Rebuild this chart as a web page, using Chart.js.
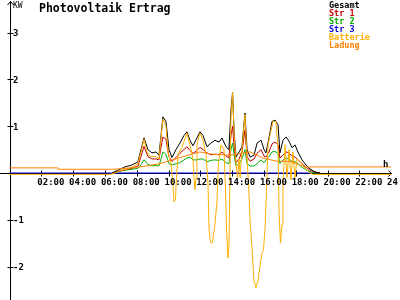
<!DOCTYPE html>
<html><head><meta charset="utf-8">
<script src="https://cdn.jsdelivr.net/npm/chart.js@4/dist/chart.umd.min.js"></script>
<style>html,body{margin:0;padding:0;background:#fff}#wrap{width:400px;height:300px}</style>
</head><body><div id="wrap"><canvas id="c" width="400" height="300"></canvas></div>
<script>
const title = "Photovoltaik Ertrag";
const seriesNames = ["Gesamt", "Str 1", "Str 2", "Str 3", "Batterie", "Ladung"];
const seriesColors = ["#000000", "#c00000", "#00b000", "#0000e0", "#ffb000", "#ff8000"];

const hours = [6.45, 6.82, 7.26, 7.70, 8.08, 8.27, 8.46, 8.71, 8.96, 9.21, 9.40, 9.53, 9.65, 9.84, 10.03, 10.22, 10.47, 10.72, 10.97, 11.16, 11.35, 11.54, 11.79, 11.98, 12.17, 12.42, 12.67, 12.92, 13.18, 13.36, 13.62, 13.80, 13.93, 14.03, 14.12, 14.25, 14.44, 14.62, 14.81, 14.94, 15.13, 15.38, 15.57, 15.82, 16.01, 16.13, 16.32, 16.51, 16.70, 16.89, 17.01, 17.20, 17.39, 17.58, 17.77, 17.96, 18.14, 18.40, 18.65, 18.90, 19.21, 19.53];
const gesamt = [0, 0.06, 0.13, 0.17, 0.24, 0.5, 0.75, 0.5, 0.43, 0.45, 0.38, 0.8, 1.2, 1.1, 0.5, 0.33, 0.5, 0.64, 0.8, 0.88, 0.7, 0.58, 0.75, 0.88, 0.8, 0.56, 0.64, 0.7, 0.66, 0.75, 0.56, 0.5, 1.35, 1.72, 0.92, 0.34, 0.45, 0.56, 1.28, 0.5, 0.34, 0.38, 0.64, 0.7, 0.5, 0.43, 0.75, 1.1, 1.13, 1.03, 0.43, 0.7, 0.77, 0.68, 0.54, 0.6, 0.45, 0.28, 0.17, 0.09, 0.02, 0];
const str1 = [0, 0.03, 0.07, 0.1, 0.15, 0.35, 0.57, 0.35, 0.3, 0.3, 0.28, 0.55, 0.77, 0.72, 0.35, 0.25, 0.33, 0.42, 0.5, 0.56, 0.48, 0.42, 0.48, 0.55, 0.5, 0.43, 0.39, 0.4, 0.39, 0.45, 0.36, 0.32, 0.8, 1.0, 0.6, 0.22, 0.3, 0.45, 0.92, 0.35, 0.25, 0.3, 0.42, 0.5, 0.36, 0.34, 0.45, 0.62, 0.66, 0.6, 0.32, 0.38, 0.45, 0.43, 0.36, 0.34, 0.28, 0.2, 0.12, 0.06, 0.02, 0];
const str2 = [0, 0.03, 0.06, 0.08, 0.1, 0.18, 0.28, 0.18, 0.15, 0.16, 0.15, 0.3, 0.45, 0.4, 0.2, 0.17, 0.2, 0.22, 0.28, 0.32, 0.34, 0.28, 0.28, 0.3, 0.3, 0.24, 0.27, 0.28, 0.27, 0.3, 0.22, 0.2, 0.5, 0.64, 0.4, 0.15, 0.2, 0.3, 0.5, 0.2, 0.15, 0.15, 0.2, 0.28, 0.22, 0.28, 0.35, 0.45, 0.46, 0.42, 0.2, 0.28, 0.32, 0.3, 0.25, 0.24, 0.2, 0.12, 0.07, 0.03, 0, 0];
const str3Hours = [0, 19.25];
const str3 = [0, 0];
const batHours = [0, 6.32, 6.64, 6.95, 7.58, 8.08, 8.27, 8.46, 8.65, 8.84, 9.21, 9.40, 9.53, 9.65, 9.84, 9.97, 10.16, 10.28, 10.35, 10.44, 10.50, 10.60, 10.85, 11.16, 11.35, 11.54, 11.60, 11.67, 11.73, 11.79, 11.98, 12.17, 12.36, 12.48, 12.55, 12.64, 12.74, 12.80, 12.92, 13.05, 13.14, 13.30, 13.49, 13.58, 13.65, 13.74, 13.80, 13.86, 13.93, 14.03, 14.12, 14.25, 14.34, 14.44, 14.50, 14.62, 14.81, 14.94, 15.03, 15.13, 15.25, 15.38, 15.50, 15.63, 15.75, 15.88, 15.97, 16.07, 16.16, 16.26, 16.38, 16.57, 16.76, 16.89, 16.95, 17.04, 17.14, 17.20, 17.33, 17.45, 17.58, 17.70, 17.83, 17.96, 18.08, 18.27, 18.58, 18.90, 19.09, 24];
const batterie = [-0.03, -0.03, 0, 0.05, 0.1, 0.2, 0.45, 0.72, 0.45, 0.35, 0.35, 0.3, 0.75, 1.15, 1.0, 0.45, 0.2, -0.25, -0.62, -0.55, -0.1, 0.4, 0.55, 0.85, 0.6, 0.3, -0.1, -0.36, -0.1, 0.6, 0.85, 0.7, 0.4, -0.2, -1.2, -1.48, -1.5, -1.4, -1.1, -0.6, 0.2, 0.6, 0.5, -0.3, -1.2, -1.82, -1.6, -0.2, 1.2, 1.72, 0.9, 0.2, -0.1, 0.3, -0.1, 0.5, 1.25, 0.3, -0.2, -1.0, -1.6, -2.3, -2.45, -2.3, -2.0, -1.7, -1.65, -1.2, -0.4, 0.6, 0.8, 1.1, 1.1, 0.5, -0.8, -1.5, -1.1, -0.2, 0.6, -0.1, 0.5, -0.15, 0.45, -0.1, 0.3, 0.25, 0.1, 0, -0.03, -0.03];
const ladHours = [0, 3.05, 3.06, 6.51, 6.95, 8.2, 9.46, 10.72, 11.98, 12.8, 13.87, 15.13, 15.94, 16.82, 17.64, 18.27, 18.6, 24];
const ladung = [0.11, 0.11, 0.08, 0.08, 0.09, 0.13, 0.2, 0.33, 0.45, 0.4, 0.38, 0.45, 0.32, 0.25, 0.25, 0.17, 0.13, 0.13];

const xTicks = [2, 4, 6, 8, 10, 12, 14, 16, 18, 20, 22, 24];
const xTickLabels = ["02:00", "04:00", "06:00", "08:00", "10:00", "12:00", "14:00", "16:00", "18:00", "20:00", "22:00", "24:00"];
const yTicks = [3, 2, 1, -1, -2];
const yTickLabels = ["3", "2", "1", "-1", "-2"];
const yUnit = "KW";
const xUnit = "h";

function pts(t, v) { return t.map((x, i) => ({ x: x, y: v[i] })); }
const seriesData = [pts(hours, gesamt), pts(hours, str1), pts(hours, str2), pts(str3Hours, str3), pts(batHours, batterie), pts(ladHours, ladung)];
const orders = [2, 3, 4, 5, 1, 0];

const FONT = '"DejaVu Sans Mono", "Liberation Mono", monospace';

const axesPlugin = {
  id: 'axesPlugin',
  beforeDatasetsDraw(chart) {
    const ctx = chart.ctx, xs = chart.scales.x, ys = chart.scales.y;
    const x0 = Math.round(xs.getPixelForValue(0)) + 0.5;
    const y0 = Math.round(ys.getPixelForValue(0)) + 0.5;
    const xEnd = Math.round(xs.getPixelForValue(24)) + 0.5;
    ctx.save();
    ctx.strokeStyle = '#000';
    ctx.lineWidth = 1;
    ctx.beginPath();
    ctx.moveTo(0, y0); ctx.lineTo(xEnd, y0);
    ctx.moveTo(xEnd - 3, y0 - 3); ctx.lineTo(xEnd, y0); ctx.lineTo(xEnd - 3, y0 + 3);
    ctx.moveTo(x0, 1); ctx.lineTo(x0, 300);
    ctx.moveTo(x0 - 3, 5); ctx.lineTo(x0, 1.5); ctx.lineTo(x0 + 3, 5);
    xTicks.forEach(h => {
      if (h === 24) return;
      const px = Math.round(xs.getPixelForValue(h)) + 0.5;
      ctx.moveTo(px, y0 - 3); ctx.lineTo(px, y0 + 3);
    });
    yTicks.forEach(v => {
      const py = Math.round(ys.getPixelForValue(v)) + 0.5;
      ctx.moveTo(x0 - 3, py); ctx.lineTo(x0 + 3, py);
    });
    ctx.stroke();
    ctx.restore();
  },
  afterDatasetsDraw(chart) {
    const ctx = chart.ctx, xs = chart.scales.x, ys = chart.scales.y;
    const y0 = ys.getPixelForValue(0);
    const x0 = xs.getPixelForValue(0);
    ctx.save();
    ctx.textBaseline = 'alphabetic';
    ctx.textAlign = 'left';
    ctx.fillStyle = '#000';
    ctx.font = 'bold 9px ' + FONT;
    xTicks.forEach((h, i) => {
      ctx.fillText(xTickLabels[i], xs.getPixelForValue(h) - 4, y0 + 12);
    });
    yTicks.forEach((v, i) => {
      ctx.fillText(yTickLabels[i], x0 + 3.5, ys.getPixelForValue(v) + 3.5);
    });
    ctx.font = '8px ' + FONT;
    ctx.fillText(yUnit, x0 + 3.5, 8);
    ctx.font = 'bold 9px ' + FONT;
    ctx.fillText(xUnit, xs.getPixelForValue(24) - 8, y0 - 6);
    ctx.font = 'bold 11.5px ' + FONT;
    ctx.fillText(title, 39, 12);
    ctx.font = 'bold 8.5px ' + FONT;
    chart.data.datasets.forEach((ds, i) => {
      ctx.fillStyle = ds.borderColor;
      ctx.fillText(ds.label, 329, 8 + 8 * i);
    });
    ctx.restore();
  }
};

new Chart(document.getElementById('c'), {
  type: 'line',
  data: {
    datasets: seriesNames.map((n, i) => ({
      label: n,
      data: seriesData[i],
      borderColor: seriesColors[i],
      backgroundColor: seriesColors[i],
      borderWidth: 1,
      pointRadius: 0,
      tension: 0,
      fill: false,
      order: orders[i]
    }))
  },
  options: {
    responsive: false,
    animation: false,
    devicePixelRatio: 1,
    layout: { padding: 0 },
    plugins: { legend: { display: false }, title: { display: false }, tooltip: { enabled: false } },
    scales: {
      x: { type: 'linear', display: false, min: -9.5 / 15.9, max: 390.5 / 15.9 },
      y: { type: 'linear', display: false, min: -127 / 46.8, max: 173 / 46.8 }
    }
  },
  plugins: [axesPlugin]
});
</script>
</body></html>
